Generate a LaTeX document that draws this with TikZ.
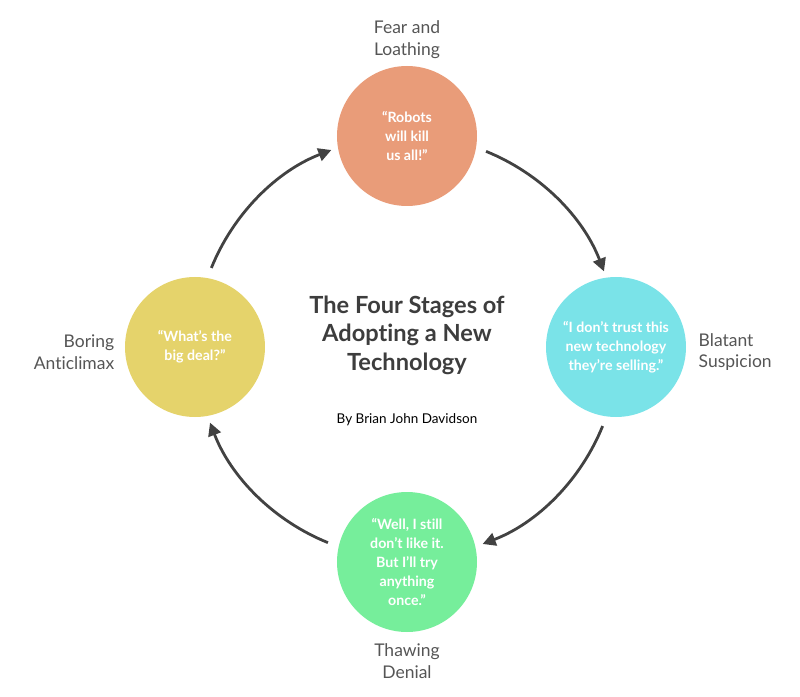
\documentclass[tikz,border=0pt]{standalone}
\usepackage{fontspec}
\setmainfont{Lato}[Ligatures=NoCommon]
\usepackage{tikz}
\usetikzlibrary{arrows.meta,
                positioning}

\definecolor{fearcol}{HTML}{E99C79}
\definecolor{suspcol}{HTML}{7AE3E8}
\definecolor{denialcol}{HTML}{76EE9B}
\definecolor{anticol}{HTML}{E5D36B}
\definecolor{taggray}{HTML}{555555}
\definecolor{titlegray}{HTML}{3D3D3D}
\definecolor{arrowgray}{HTML}{424242}

\tikzset{
  stage/.style={circle, minimum size=140pt, inner sep=0pt, text=white,
                align=center, font=\bfseries\fontsize{14.2}{18.8}\selectfont},
  tag/.style={text=taggray, font=\fontsize{17.5}{21.5}\selectfont},
  flow/.style={arrowgray, line width=2.8pt, -{Triangle[length=13pt,width=13pt]}}
}

\begin{document}
\begin{tikzpicture}[x=1pt,y=1pt]
\useasboundingbox (-407,-349) rectangle (393,347);
\coordinate (hub) at (0,0);

% the four stages
\node[stage, fill=fearcol] (fear) at (0,211) {“Robots\\will kill\\us all!”};
\node[stage, fill=suspcol] (suspicion) at (209,0) {“I don’t trust this\\new technology\\they’re selling.”};
\node[stage, fill=denialcol] (denial) at (0,-215) {“Well, I still\\don’t like it.\\But I’ll try\\anything\\once.”};
\node[stage, fill=anticol] (anticlimax) at (-212,0) {“What’s the\\big deal?”};

\node[tag, above=4pt of fear, align=center] (fearlbl) {Fear and\\Loathing};
\node[tag, right=9pt of suspicion, yshift=-5pt, align=left] (susplbl) {Blatant\\Suspicion};
\node[tag, below=8pt of denial, align=center] (deniallbl) {Thawing\\Denial};
\node[tag, left=7pt of anticlimax, yshift=-5pt, align=right] (antilbl) {Boring\\Anticlimax};

% title in the middle
\node[text=titlegray, align=center, font=\bfseries\fontsize{23.6}{28.5}\selectfont] (title) at (0,12)
  {The Four Stages of\\Adopting a New\\Technology};
\node[font=\fontsize{13.5}{15}\selectfont] (byline) at (0,-73) {By Brian John Davidson};

% arrows round the cycle
\foreach \a in {0,-90,-180,-270}
  \draw[flow] (hub) ++(\a+68:211) arc[start angle=\a+68, end angle=\a+21, radius=211];
\end{tikzpicture}
\end{document}
